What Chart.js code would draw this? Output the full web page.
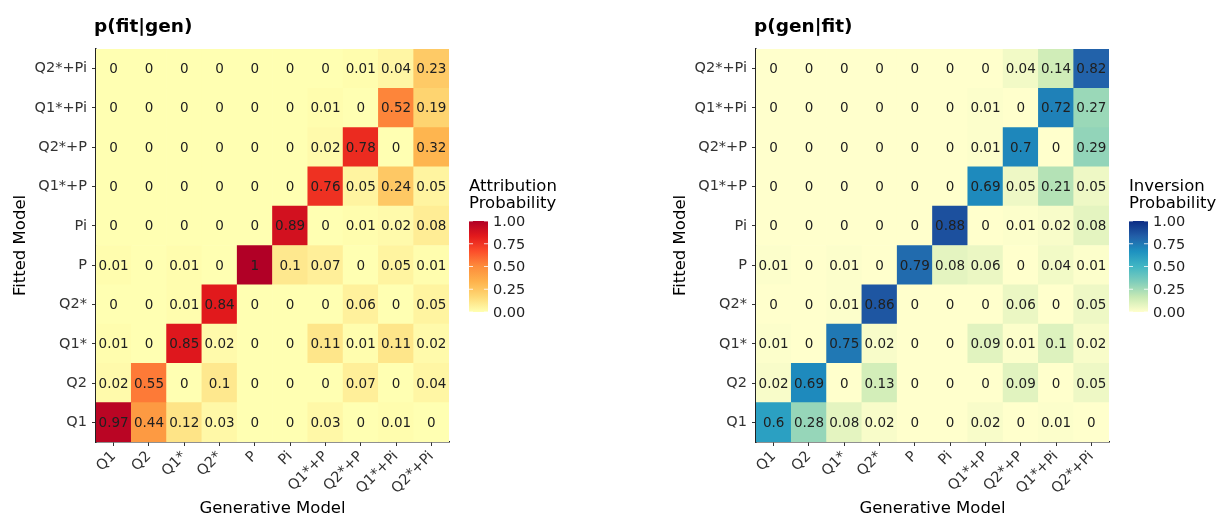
<!DOCTYPE html>
<html>
<head>
<meta charset="utf-8">
<script src="https://cdn.jsdelivr.net/npm/chart.js@4.4.1/dist/chart.umd.min.js"></script>
<style>
body{margin:0;background:#fff;width:1220px;height:521px;overflow:hidden;position:relative}
canvas{position:absolute;top:0}
#left{left:0}
#right{left:660px}
</style>
</head>
<body>
<canvas id="left" width="660" height="521"></canvas>
<canvas id="right" width="560" height="521"></canvas>
<script>

// columns: generative model, rows: fitted model (bottom to top)
const genModels = ["Q1","Q2","Q1*","Q2*","P","Pi","Q1*+P","Q2*+P","Q1*+Pi","Q2*+Pi"]
const fitModels = ["Q1","Q2","Q1*","Q2*","P","Pi","Q1*+P","Q2*+P","Q1*+Pi","Q2*+Pi"]

// p(fit|gen)
const fitGivenGen = [
[0.97,0.44,0.12,0.03,0,0,0.03,0,0.01,0],
[0.02,0.55,0,0.1,0,0,0,0.07,0,0.04],
[0.01,0,0.85,0.02,0,0,0.11,0.01,0.11,0.02],
[0,0,0.01,0.84,0,0,0,0.06,0,0.05],
[0.01,0,0.01,0,1,0.1,0.07,0,0.05,0.01],
[0,0,0,0,0,0.89,0,0.01,0.02,0.08],
[0,0,0,0,0,0,0.76,0.05,0.24,0.05],
[0,0,0,0,0,0,0.02,0.78,0,0.32],
[0,0,0,0,0,0,0.01,0,0.52,0.19],
[0,0,0,0,0,0,0,0.01,0.04,0.23]
]

// p(gen|fit)
const genGivenFit = [
[0.6,0.28,0.08,0.02,0,0,0.02,0,0.01,0],
[0.02,0.69,0,0.13,0,0,0,0.09,0,0.05],
[0.01,0,0.75,0.02,0,0,0.09,0.01,0.1,0.02],
[0,0,0.01,0.86,0,0,0,0.06,0,0.05],
[0.01,0,0.01,0,0.79,0.08,0.06,0,0.04,0.01],
[0,0,0,0,0,0.88,0,0.01,0.02,0.08],
[0,0,0,0,0,0,0.69,0.05,0.21,0.05],
[0,0,0,0,0,0,0.01,0.7,0,0.29],
[0,0,0,0,0,0,0.01,0,0.72,0.27],
[0,0,0,0,0,0,0,0.04,0.14,0.82]
]

const legendBreaks = [0,0.25,0.5,0.75,1]

const ylOrRd = ["#FFFFB2","#FED976","#FEB24C","#FD8D3C","#FC4E2A","#E31A1C","#B10026"]
const ylGnBu = ["#FFFFCC","#C7E9B4","#7FCDBB","#41B6C4","#1D91C0","#225EA8","#0C2C84"]

const font = "DejaVu Sans"

function hex(h){
return [1,3,5].map(i=>parseInt(h.slice(i,i+2),16))
}

function colorAt(pal, v){
let p = Math.min(Math.max(v,0),1) * (pal.length-1)
let i = Math.min(Math.floor(p), pal.length-2)
let t = p - i
let a = hex(pal[i]), b = hex(pal[i+1])
return "rgb(" + a.map((c,k)=>Math.round(c+(b[k]-c)*t)).join(",") + ")"
}

function heatmap(id, title, legendLines, values, palette, padRight){

let datasets = fitModels.map((fit,r)=>({
label: fit,
data: genModels.map(()=>[r, r+1]),
cellValues: values[r],
backgroundColor: values[r].map(v=>colorAt(palette,v)),
borderWidth: 0,
barPercentage: 1,
categoryPercentage: 1,
grouped: false
}))

let extras = {
id: "extras",
afterDatasetsDraw(chart){
let ctx = chart.ctx
ctx.save()
ctx.font = "13.5px '" + font + "'"
ctx.fillStyle = "#202020"
ctx.textAlign = "center"
ctx.textBaseline = "middle"
chart.data.datasets.forEach((ds,di)=>{
chart.getDatasetMeta(di).data.forEach((bar,ci)=>{
ctx.fillText(String(ds.cellValues[ci]), bar.x, (bar.y+bar.base)/2 + 1)
})
})
ctx.restore()
},
afterDraw(chart){
let ctx = chart.ctx
let area = chart.chartArea
ctx.save()

// title
ctx.font = "bold 18.5px '" + font + "'"
ctx.fillStyle = "#000"
ctx.textAlign = "left"
ctx.textBaseline = "middle"
ctx.fillText(title, area.left - 2, 27)

// colour bar legend
let x0 = area.right + 20
let top = 221, bottom = 312, w = 19
ctx.font = "16.5px '" + font + "'"
ctx.fillStyle = "#000"
ctx.fillText(legendLines[0], x0, 187)
ctx.fillText(legendLines[1], x0, 204)

let grad = ctx.createLinearGradient(0, bottom, 0, top)
palette.forEach((c,i)=>grad.addColorStop(i/(palette.length-1), c))
ctx.fillStyle = grad
ctx.fillRect(x0, top, w, bottom-top)

ctx.font = "14.5px '" + font + "'"
legendBreaks.forEach(b=>{
let y = bottom - b*(bottom-top)
ctx.strokeStyle = "rgba(255,255,255,0.8)"
ctx.lineWidth = 1
ctx.beginPath()
ctx.moveTo(x0, y); ctx.lineTo(x0+4, y)
ctx.moveTo(x0+w-4, y); ctx.lineTo(x0+w, y)
ctx.stroke()
ctx.fillStyle = "#222"
ctx.fillText(b.toFixed(2), x0+24, y+1)
})

ctx.restore()
}
}

return new Chart(document.getElementById(id), {
type: "bar",
data: { labels: genModels, datasets: datasets },
plugins: [extras],
options: {
responsive: false,
animation: false,
layout: { padding: { left: 0, top: 49, right: padRight, bottom: 0 } },
plugins: { legend: { display: false }, tooltip: { enabled: false } },
scales: {
x: {
afterFit: s=>{ s.height = 79 },
grid: { offset: false, drawOnChartArea: false, drawTicks: true, tickLength: 4, color: "#333" },
border: { display: true, color: "#222", width: 1.5 },
ticks: { autoSkip: false, minRotation: 45, maxRotation: 45, padding: 2, color: "#333", font: { family: font, size: 14.5 } },
title: { display: true, text: "Generative Model", color: "#000", font: { family: font, size: 16.5 }, padding: { top: 0, bottom: 2 } }
},
y: {
min: 0,
max: 10,
afterFit: s=>{ s.width = 96 },
afterBuildTicks: s=>{ s.ticks = fitModels.map((f,i)=>({ value: i+0.5 })) },
grid: { drawOnChartArea: false, drawTicks: true, tickLength: 4, color: "#333" },
border: { display: true, color: "#222", width: 1.5 },
ticks: { padding: 5, color: "#333", font: { family: font, size: 14.5 }, callback: v=>fitModels[Math.floor(v)] },
title: { display: true, text: "Fitted Model", color: "#000", font: { family: font, size: 16.5 }, padding: { top: 11, bottom: 0 } }
}
}
}
})
}

heatmap("left", "p(fit|gen)", ["Attribution","Probability"], fitGivenGen, ylOrRd, 211)
heatmap("right", "p(gen|fit)", ["Inversion","Probability"], genGivenFit, ylGnBu, 111)

</script>
</body>
</html>
